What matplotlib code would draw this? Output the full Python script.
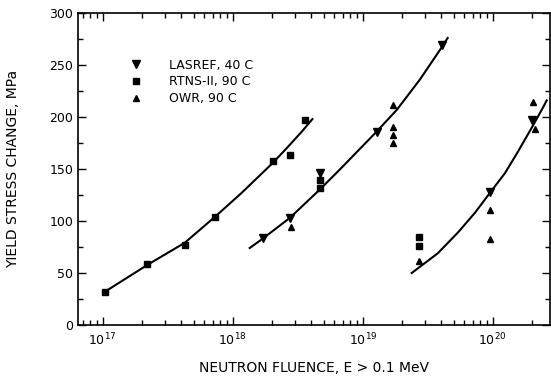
import matplotlib
matplotlib.use("Agg")
import matplotlib.pyplot as plt
from matplotlib.ticker import LogLocator, FixedLocator, NullFormatter, MultipleLocator

# ---- data ----
# fitted trend curves (fluence, yield stress change)
curve1_x = [1.04e17, 2.22e17, 4.27e17, 7.3e17, 1.17e18, 2.0e18, 2.6e18, 3.4e18, 4.1e18]
curve1_y = [32, 58, 79, 104, 127, 155, 170, 186, 198]
curve2_x = [1.35e18, 1.7e18, 2.75e18, 4.65e18, 6.6e18, 1.28e19, 1.83e19, 2.75e19, 3.9e19, 4.5e19]
curve2_y = [74, 83, 103, 130, 149, 186, 207, 236, 264, 276]
curve3_x = [2.38e19, 3.78e19, 5.4e19, 7.3e19, 9.5e19, 1.24e20, 1.55e20, 2.0e20, 2.38e20, 2.6e20]
curve3_y = [50, 69, 89, 108, 127, 146, 166, 190, 207, 216]

# measured points
lasref_x = [1.7e18, 2.75e18, 4.65e18, 1.28e19, 4.1e19, 9.6e19, 2.0e20]
lasref_y = [84, 103, 146, 186, 269, 128, 197]
rtns_x = [1.04e17, 2.2e17, 4.3e17, 7.3e17, 2.05e18, 2.75e18, 3.6e18, 2.7e19, 2.7e19, 4.65e18, 4.65e18]
rtns_y = [32, 59, 77, 104, 158, 163, 197, 85, 76, 132, 139]
owr_x = [2.8e18, 1.7e19, 1.7e19, 1.7e19, 1.7e19, 2.7e19, 9.6e19, 9.6e19, 2.05e20, 2.1e20]
owr_y = [94, 212, 190, 183, 175, 62, 111, 83, 214, 188]

legend_labels = ["LASREF, 40 C", "RTNS-II, 90 C", "OWR, 90 C"]
y_ticks = [0, 50, 100, 150, 200, 250, 300]
x_major = [1e17, 1e18, 1e19, 1e20]
x_major_labels = ["$10^{17}$", "$10^{18}$", "$10^{19}$", "$10^{20}$"]

plt.rcParams['font.family'] = ['DejaVu Sans']

fig = plt.figure(figsize=(5.51, 3.79), dpi=100)
ax = fig.add_axes([78/551, 54/379, 472/551, 312/379])

for cx, cy in [(curve1_x, curve1_y), (curve2_x, curve2_y), (curve3_x, curve3_y)]:
    ax.plot(cx, cy, color='black', lw=1.5, zorder=2, solid_joinstyle='round')

h1, = ax.plot(lasref_x, lasref_y, 'v', color='black', ms=5.5, ls='none', zorder=3)
h2, = ax.plot(rtns_x, rtns_y, 's', color='black', ms=4.5, ls='none', zorder=3)
h3, = ax.plot(owr_x, owr_y, '^', color='black', ms=4, ls='none', zorder=3)

ax.set_xscale('log')
ax.set_xlim(10**16.81, 10**20.44)
ax.set_ylim(0, 300)

ax.xaxis.set_major_locator(FixedLocator(x_major))
ax.set_xticklabels(x_major_labels)
ax.xaxis.set_minor_locator(LogLocator(base=10, subs=range(2, 10), numticks=20))
ax.xaxis.set_minor_formatter(NullFormatter())
ax.yaxis.set_major_locator(FixedLocator(y_ticks))
ax.yaxis.set_minor_locator(MultipleLocator(25))

ax.tick_params(which='both', direction='in', top=True, right=True, width=1.0,
               labelsize=9, colors='black')
ax.tick_params(which='major', length=6)
ax.tick_params(which='minor', length=3.5)
ax.tick_params(axis='x', pad=5)
for s in ax.spines.values():
    s.set_linewidth(1.2)

ax.set_ylabel("YIELD STRESS CHANGE, MPa", fontsize=10)
ax.set_xlabel("NEUTRON FLUENCE, E > 0.1 MeV", fontsize=10)
ax.yaxis.set_label_coords(-0.138, 0.5)
ax.xaxis.set_label_coords(0.5, -0.138)
ax.yaxis.label.set_va('center')
ax.xaxis.label.set_va('center')

ax.legend([h1, h2, h3], legend_labels, loc='upper left', bbox_to_anchor=(0.085, 0.89),
          frameon=False, fontsize=9, handletextpad=2.2, labelspacing=0.3,
          handlelength=1.0)

fig.savefig("out.png", dpi=100)
